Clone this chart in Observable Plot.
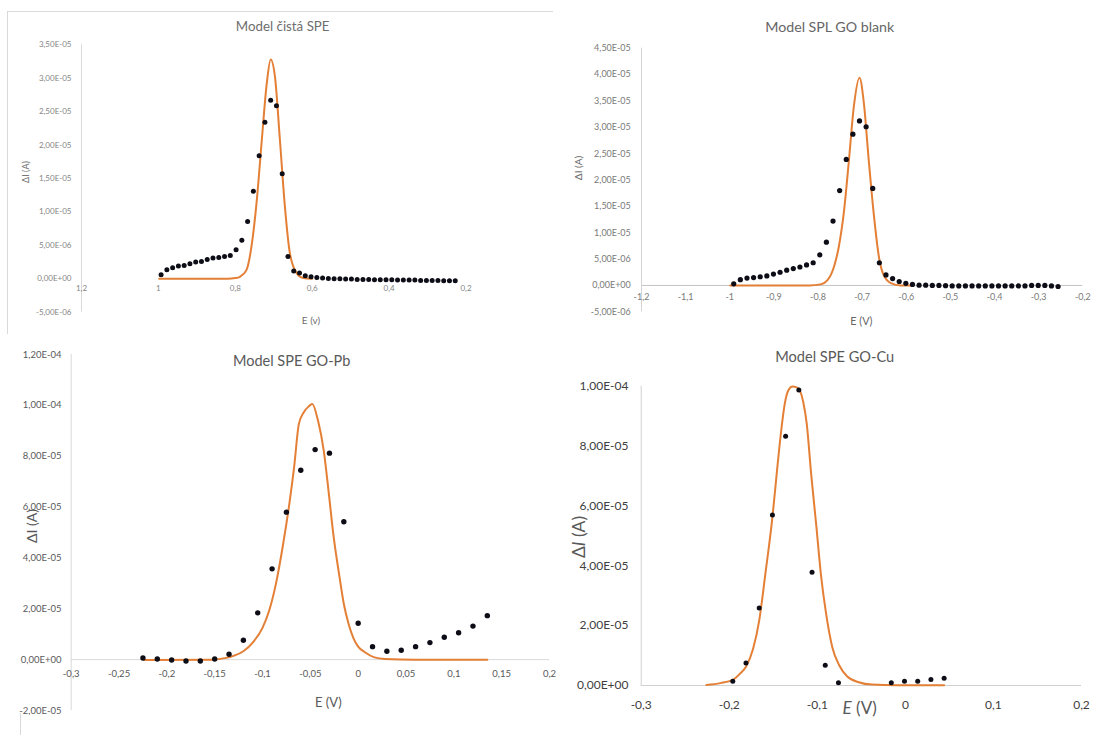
<!DOCTYPE html>
<html>
<head>
<meta charset="utf-8">
<script src="https://cdn.jsdelivr.net/npm/d3@7"></script>
<script src="https://cdn.jsdelivr.net/npm/@observablehq/plot@0.6"></script>
<style>
  body { margin: 0; background: #fff; }
  #page { position: relative; width: 1093px; height: 735px; overflow: hidden; font-family: Lato, "Open Sans", sans-serif; }
  .panel { position: absolute; }
  .panel svg { background: transparent !important; max-width: none !important; }
  .t { position: absolute; white-space: pre; transform: translate(-50%, -50%); line-height: 1; }
  .ty { transform: translate(-50%, -50%) rotate(-90deg); }
  .line { position: absolute; background: #d6d6d6; }
</style>
</head>
<body>
<div id="page"></div>
<script>
// Currents are listed in units of 1e-5 A; potentials in V.
const UNIT = 1e-5;

// ---- Model čistá SPE ----
const speE = [0.993, 0.978, 0.963, 0.948, 0.933, 0.918, 0.903, 0.888, 0.873, 0.858,
  0.843, 0.828, 0.813, 0.798, 0.783, 0.768, 0.753, 0.738, 0.723, 0.708,
  0.693, 0.678, 0.663, 0.648, 0.633, 0.618, 0.603, 0.588, 0.573, 0.558,
  0.543, 0.528, 0.513, 0.498, 0.483, 0.468, 0.453, 0.438, 0.423, 0.408,
  0.393, 0.378, 0.363, 0.348, 0.333, 0.318, 0.303, 0.288, 0.273, 0.258,
  0.243, 0.228];
const speI = [0.06, 0.135, 0.165, 0.19, 0.20, 0.225, 0.25, 0.26, 0.29, 0.31,
  0.32, 0.335, 0.35, 0.435, 0.575, 0.855, 1.31, 1.84, 2.34, 2.67,
  2.59, 1.57, 0.335, 0.115, 0.085, 0.045, 0.03, 0.02, 0.01, 0.005,
  0, 0, -0.005, -0.005, -0.01, -0.01, -0.01, -0.015, -0.015, -0.015,
  -0.015, -0.02, -0.02, -0.02, -0.02, -0.025, -0.025, -0.025, -0.025, -0.03,
  -0.03, -0.03];
const speFitE = [0.998, 0.90, 0.82, 0.800, 0.788, 0.771, 0.758, 0.744, 0.731, 0.718,
  0.708, 0.697, 0.684, 0.671, 0.658, 0.640, 0.623, 0.600];
const speFitI = [0, 0, 0, 0.01, 0.03, 0.13, 0.48, 1.18, 2.08, 2.93,
  3.28, 3.03, 2.08, 1.08, 0.38, 0.08, 0.01, 0];
const speXTicks = [1.2, 1, 0.8, 0.6, 0.4, 0.2];
const speYTicks = [-0.5, 0, 0.5, 1, 1.5, 2, 2.5, 3, 3.5];

// ---- Model SPL GO blank ----
const blankE = [-0.991, -0.976, -0.961, -0.946, -0.931, -0.916, -0.901, -0.886, -0.871, -0.856,
  -0.841, -0.826, -0.811, -0.796, -0.781, -0.766, -0.751, -0.736, -0.721, -0.706,
  -0.691, -0.676, -0.661, -0.646, -0.631, -0.616, -0.601, -0.586, -0.571, -0.556,
  -0.541, -0.526, -0.511, -0.496, -0.481, -0.466, -0.451, -0.436, -0.421, -0.406,
  -0.391, -0.376, -0.361, -0.346, -0.331, -0.316, -0.301, -0.286, -0.271, -0.256];
const blankI = [0.03, 0.11, 0.14, 0.15, 0.165, 0.18, 0.215, 0.25, 0.29, 0.32,
  0.35, 0.39, 0.43, 0.58, 0.82, 1.22, 1.80, 2.39, 2.87, 3.12,
  3.01, 1.84, 0.43, 0.20, 0.13, 0.075, 0.04, 0.02, 0.005, 0.005,
  0, 0, -0.005, -0.01, -0.01, -0.01, -0.01, -0.01, -0.01, -0.01,
  -0.01, -0.01, -0.01, -0.01, -0.01, 0, 0, 0, -0.01, -0.02];
const blankFitE = [-0.999, -0.90, -0.82, -0.794, -0.779, -0.764, -0.753, -0.741, -0.730, -0.719,
  -0.706, -0.696, -0.685, -0.673, -0.662, -0.651, -0.635, -0.613, -0.590];
const blankFitI = [0, 0, 0, 0.02, 0.095, 0.35, 0.73, 1.42, 2.37, 3.38,
  3.94, 3.45, 2.37, 1.30, 0.54, 0.19, 0.045, 0, 0];
const blankXTicks = [-1.2, -1.1, -1, -0.9, -0.8, -0.7, -0.6, -0.5, -0.4, -0.3, -0.2];
const blankYTicks = [-0.5, 0, 0.5, 1, 1.5, 2, 2.5, 3, 3.5, 4, 4.5];

// ---- Model SPE GO-Pb ----
const pbE = [-0.225, -0.210, -0.195, -0.180, -0.165, -0.150, -0.135, -0.120, -0.105, -0.090,
  -0.075, -0.060, -0.045, -0.030, -0.015, 0.000, 0.015, 0.030, 0.045, 0.060,
  0.075, 0.090, 0.105, 0.120, 0.135];
const pbI = [0.066, 0.026, -0.013, -0.052, -0.052, 0.026, 0.21, 0.76, 1.84, 3.57,
  5.80, 7.45, 8.26, 8.12, 5.42, 1.43, 0.51, 0.33, 0.37, 0.51,
  0.67, 0.88, 1.06, 1.32, 1.73];
const pbFitE = [-0.224, -0.152, -0.138, -0.131, -0.120, -0.110, -0.100, -0.093, -0.086, -0.079,
  -0.072, -0.067, -0.062, -0.057, -0.052, -0.048, -0.042, -0.036, -0.031, -0.026,
  -0.020, -0.015, -0.010, -0.005, 0.000, 0.007, 0.017, 0.028, 0.060, 0.135];
const pbFitI = [-0.01, 0, 0.07, 0.14, 0.33, 0.68, 1.25, 1.93, 2.98, 4.42,
  6.12, 7.56, 9.27, 9.72, 9.95, 10.05, 9.40, 8.22, 6.64, 4.94,
  3.37, 2.19, 1.40, 0.85, 0.51, 0.29, 0.09, 0.03, 0, 0];
const pbXTicks = [-0.3, -0.25, -0.2, -0.15, -0.1, -0.05, 0, 0.05, 0.1, 0.15, 0.2];
const pbYTicks = [-2, 0, 2, 4, 6, 8, 10, 12];

// ---- Model SPE GO-Cu ----
const cuE = [-0.196, -0.181, -0.166, -0.151, -0.136, -0.121, -0.106, -0.091, -0.076,
  -0.016, -0.001, 0.014, 0.029, 0.044];
const cuI = [0.145, 0.75, 2.59, 5.70, 8.33, 9.87, 3.78, 0.68, 0.09,
  0.09, 0.145, 0.145, 0.20, 0.245];
const cuFitE = [-0.226, -0.210, -0.196, -0.188, -0.181, -0.173, -0.166, -0.159, -0.151, -0.145,
  -0.141, -0.137, -0.133, -0.128, -0.124, -0.120, -0.116, -0.112, -0.107, -0.101,
  -0.096, -0.090, -0.083, -0.075, -0.066, -0.053, -0.038, -0.010, 0.044];
const cuFitI = [0.02, 0.08, 0.19, 0.39, 0.63, 1.22, 2.17, 3.73, 5.62, 7.41,
  8.52, 9.41, 9.86, 9.99, 9.97, 9.86, 9.47, 8.74, 7.07, 5.29,
  3.73, 2.39, 1.28, 0.67, 0.30, 0.11, 0.03, 0.01, 0.01];
const cuXTicks = [-0.3, -0.2, -0.1, 0, 0.1, 0.2];
const cuYTicks = [0, 2, 4, 6, 8, 10];

// ---- formatting (decimal comma, spreadsheet-style scientific) ----
function fmtSci(v) {
  const [m, e] = v.toExponential(2).split("e");
  const n = Math.abs(+e);
  return m.replace(".", ",") + "E" + (+e < 0 ? "-" : "+") + String(n).padStart(2, "0");
}
function fmtNum(v) {
  const r = +v.toFixed(3);
  return String(r === 0 ? 0 : r).replace(".", ",");
}

const ORANGE = "#E47F36";
const DOT = "#0d0d17";
const page = document.getElementById("page");

function rows(E, I) { return E.map((e, i) => ({E: e, I: I[i] * UNIT})); }

function text(str, x, y, size, color, extra = {}) {
  const d = document.createElement("div");
  d.className = "t" + (extra.rotate ? " ty" : "");
  d.style.left = x + "px";
  d.style.top = y + "px";
  d.style.fontSize = size + "px";
  d.style.color = color;
  d.innerHTML = str;
  page.appendChild(d);
}

function line(x, y, w, h, color) {
  const d = document.createElement("div");
  d.className = "line";
  Object.assign(d.style, {left: x + "px", top: y + "px", width: w + "px", height: h + "px"});
  if (color) d.style.background = color;
  page.appendChild(d);
}

function panel(cfg) {
  const yTicks = cfg.yTicks.map(v => v * UNIT);
  const yDom = [yTicks[0], yTicks[yTicks.length - 1]];
  const marks = [];
  if (cfg.zeroLine) {
    marks.push(Plot.ruleY([0], {stroke: cfg.zeroLine, strokeWidth: 1}));
  }
  marks.push(Plot.ruleX([cfg.xDomain[0]], {y1: yDom[0], y2: yDom[1], stroke: cfg.axisColor, strokeWidth: 1}));
  marks.push(Plot.axisY({
    ticks: yTicks, tickSize: 0, tickPadding: cfg.yPad, tickFormat: fmtSci,
    fontSize: cfg.tickSize, color: cfg.tickColor, label: null
  }));
  marks.push(Plot.text(cfg.xTicks, {
    x: d => d, y: d => 0, dy: cfg.xDy, text: fmtNum,
    fontSize: cfg.tickSize, fill: cfg.tickColor
  }));
  marks.push(Plot.line(rows(cfg.fitE, cfg.fitI), {
    x: "E", y: "I", stroke: ORANGE, strokeWidth: cfg.lineWidth, curve: "monotone-x"
  }));
  marks.push(Plot.dot(rows(cfg.E, cfg.I), {x: "E", y: "I", r: cfg.r, fill: DOT, stroke: "none"}));

  const svg = Plot.plot({
    width: cfg.width, height: cfg.height,
    marginLeft: cfg.m[0], marginRight: cfg.m[1], marginTop: cfg.m[2], marginBottom: cfg.m[3],
    style: {fontFamily: "Lato, 'Open Sans', sans-serif", background: "transparent", overflow: "visible"},
    x: {domain: cfg.xDomain, axis: null},
    y: {domain: yDom, axis: null},
    marks
  });
  const holder = document.createElement("div");
  holder.className = "panel";
  Object.assign(holder.style, {left: cfg.left + "px", top: cfg.top + "px", width: cfg.width + "px", height: cfg.height + "px"});
  holder.appendChild(svg);
  page.appendChild(holder);

  text(cfg.title, cfg.titlePos[0], cfg.titlePos[1], cfg.titleSize, cfg.titleColor);
  text(cfg.xLabel, cfg.xLabelPos[0], cfg.xLabelPos[1], cfg.xLabelSize, cfg.titleColor);
  text(cfg.yLabel, cfg.yLabelPos[0], cfg.yLabelPos[1], cfg.yLabelSize, cfg.titleColor, {rotate: true});
}

// chart frames
line(7, 11, 546, 1, "#d9d9d9");
line(7, 11, 1, 323, "#d9d9d9");
line(20, 713, 1, 22, "#d9d9d9");

panel({
  left: 0, top: 0, width: 545, height: 340, m: [81, 79.5, 44.3, 28.3],
  xDomain: [1.2, 0.2], xTicks: speXTicks, yTicks: speYTicks,
  E: speE, I: speI, fitE: speFitE, fitI: speFitI,
  zeroLine: null, axisColor: "#d9d9d9",
  yPad: 10, xDy: 10, tickSize: 8, tickColor: "#858585", r: 2.5, lineWidth: 2,
  title: "Model čistá SPE", titlePos: [282.7, 26.7], titleSize: 13.3, titleColor: "#6e6e6e",
  xLabel: "E (v)", xLabelPos: [311, 320], xLabelSize: 10,
  yLabel: "ΔI (A)", yLabelPos: [25, 172], yLabelSize: 9
});

panel({
  left: 545, top: 0, width: 548, height: 340, m: [96, 10.7, 47.7, 28.7],
  xDomain: [-1.2, -0.2], xTicks: blankXTicks, yTicks: blankYTicks,
  E: blankE, I: blankI, fitE: blankFitE, fitI: blankFitI,
  zeroLine: "#c4c4c4", axisColor: "#d4d4d4",
  yPad: 10.7, xDy: 11.7, tickSize: 9, tickColor: "#7a7a7a", r: 2.6, lineWidth: 2,
  title: "Model SPL GO blank", titlePos: [829.7, 26.7], titleSize: 14.2, titleColor: "#666",
  xLabel: "E (V)", xLabelPos: [861.3, 320.7], xLabelSize: 10.8,
  yLabel: "ΔI (A)", yLabelPos: [578, 168], yLabelSize: 10
});

panel({
  left: 0, top: 340, width: 560, height: 395, m: [70.7, 11, 14, 25],
  xDomain: [-0.3, 0.2], xTicks: pbXTicks, yTicks: pbYTicks,
  E: pbE, I: pbI, fitE: pbFitE, fitI: pbFitI,
  zeroLine: "#d9d9d9", axisColor: "#d9d9d9",
  yPad: 9.7, xDy: 14.3, tickSize: 9.5, tickColor: "#595959", r: 2.7, lineWidth: 2,
  title: "Model SPE GO-Pb", titlePos: [291.7, 360.7], titleSize: 14.5, titleColor: "#595959",
  xLabel: "E (V)", xLabelPos: [328.3, 701.7], xLabelSize: 13,
  yLabel: "ΔI (A)", yLabelPos: [31.7, 525.5], yLabelSize: 14
});

panel({
  left: 560, top: 340, width: 533, height: 395, m: [80.7, 12, 45.7, 50],
  xDomain: [-0.3, 0.2], xTicks: cuXTicks, yTicks: cuYTicks,
  E: cuE, I: cuI, fitE: cuFitE, fitI: cuFitI,
  zeroLine: "#d0d0d0", axisColor: "#d0d0d0",
  yPad: 12.7, xDy: 20, tickSize: 12, tickColor: "#404040", r: 2.5, lineWidth: 2,
  title: "Model SPE GO-Cu", titlePos: [834.7, 357.3], titleSize: 14.6, titleColor: "#595959",
  xLabel: "<i>E</i> (V)", xLabelPos: [859.7, 706.7], xLabelSize: 17,
  yLabel: "Δ<i>I</i> (A)", yLabelPos: [578.7, 537], yLabelSize: 17.5
});
</script>
</body>
</html>
